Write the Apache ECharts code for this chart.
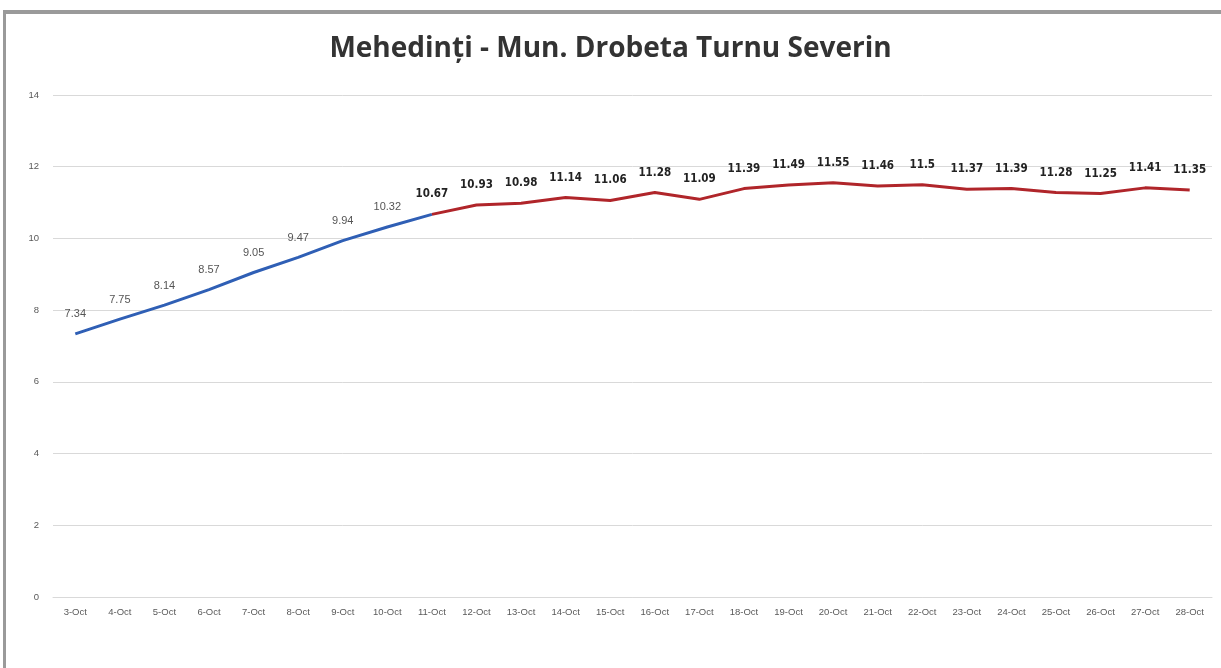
<!DOCTYPE html>
<html>
<head>
<meta charset="utf-8">
<script src="https://cdn.jsdelivr.net/npm/echarts@6/dist/echarts.min.js"></script>
<style>
  html, body { margin: 0; padding: 0; background: #fff; }
  #chart { width: 1221px; height: 668px; }
  .frame {
    position: absolute; left: 3px; top: 10px; width: 1218px; height: 658px;
    border-left: 3px solid #9a9a9a; border-top: 4px solid #9a9a9a;
    box-sizing: border-box; pointer-events: none;
  }
</style>
</head>
<body>
<div id="chart"></div>
<div class="frame"></div>
<script>
// date labels on the x axis
var dates = ['3-Oct', '4-Oct', '5-Oct', '6-Oct', '7-Oct', '8-Oct', '9-Oct', '10-Oct', '11-Oct',
  '12-Oct', '13-Oct', '14-Oct', '15-Oct', '16-Oct', '17-Oct', '18-Oct', '19-Oct', '20-Oct',
  '21-Oct', '22-Oct', '23-Oct', '24-Oct', '25-Oct', '26-Oct', '27-Oct', '28-Oct'];
// infection rate per day
var rates = [7.34, 7.75, 8.14, 8.57, 9.05, 9.47, 9.94, 10.32, 10.67,
  10.93, 10.98, 11.14, 11.06, 11.28, 11.09, 11.39, 11.49, 11.55,
  11.46, 11.5, 11.37, 11.39, 11.28, 11.25, 11.41, 11.35];
// blue part ends (and red part starts) on this index
var splitIndex = 8;
var yTicks = [0, 2, 4, 6, 8, 10, 12, 14];

var blueData = rates.map(function (v, i) { return i <= splitIndex ? v : null; });
var redData = rates.map(function (v, i) { return i >= splitIndex ? v : null; });

var myChart = echarts.init(document.getElementById('chart'));
var option = {
  animation: false,
  backgroundColor: '#fff',
  title: {
    text: 'Mehedinți - Mun. Drobeta Turnu Severin',
    left: 'center',
    top: 30,
    textStyle: {
      fontFamily: 'Open Sans',
      fontSize: 28,
      fontWeight: 'bold',
      color: '#333'
    }
  },
  grid: {
    left: 53,
    right: 9,
    top: 95,
    bottom: 71
  },
  xAxis: {
    type: 'category',
    data: dates,
    boundaryGap: true,
    axisLine: { lineStyle: { color: '#d9d9d9', width: 1 } },
    axisTick: { show: false },
    axisLabel: {
      interval: 0,
      color: '#595959',
      fontFamily: 'Liberation Sans',
      fontSize: 9.5,
      margin: 10
    }
  },
  yAxis: {
    type: 'value',
    min: yTicks[0],
    max: yTicks[yTicks.length - 1],
    interval: 2,
    axisLine: { show: false },
    axisTick: { show: false },
    axisLabel: {
      color: '#595959',
      fontFamily: 'Liberation Sans',
      fontSize: 9.5,
      margin: 14
    },
    splitLine: { lineStyle: { color: '#d9d9d9', width: 1 } }
  },
  series: [
    {
      name: 'blue',
      type: 'line',
      data: blueData,
      symbol: 'circle',
      symbolSize: 0,
      lineStyle: { color: '#2f5fb5', width: 3 },
      itemStyle: { color: '#2f5fb5' },
      label: {
        show: true,
        position: 'top',
        distance: 14,
        color: '#555',
        fontFamily: 'Liberation Sans',
        fontSize: 11,
        // the shared point gets the red series' bold label only
        formatter: function (p) {
          return p.dataIndex === splitIndex ? '' : p.value;
        }
      },
      z: 2
    },
    {
      name: 'red',
      type: 'line',
      data: redData,
      symbol: 'circle',
      symbolSize: 0,
      lineStyle: { color: '#b0252a', width: 3 },
      itemStyle: { color: '#b0252a' },
      label: {
        show: true,
        position: 'top',
        distance: 14,
        color: '#222',
        fontFamily: 'DejaVu Sans Condensed, Liberation Sans',
        fontWeight: 'bold',
        fontSize: 11.5
      },
      z: 3
    }
  ]
};
myChart.setOption(option);
</script>
</body>
</html>
